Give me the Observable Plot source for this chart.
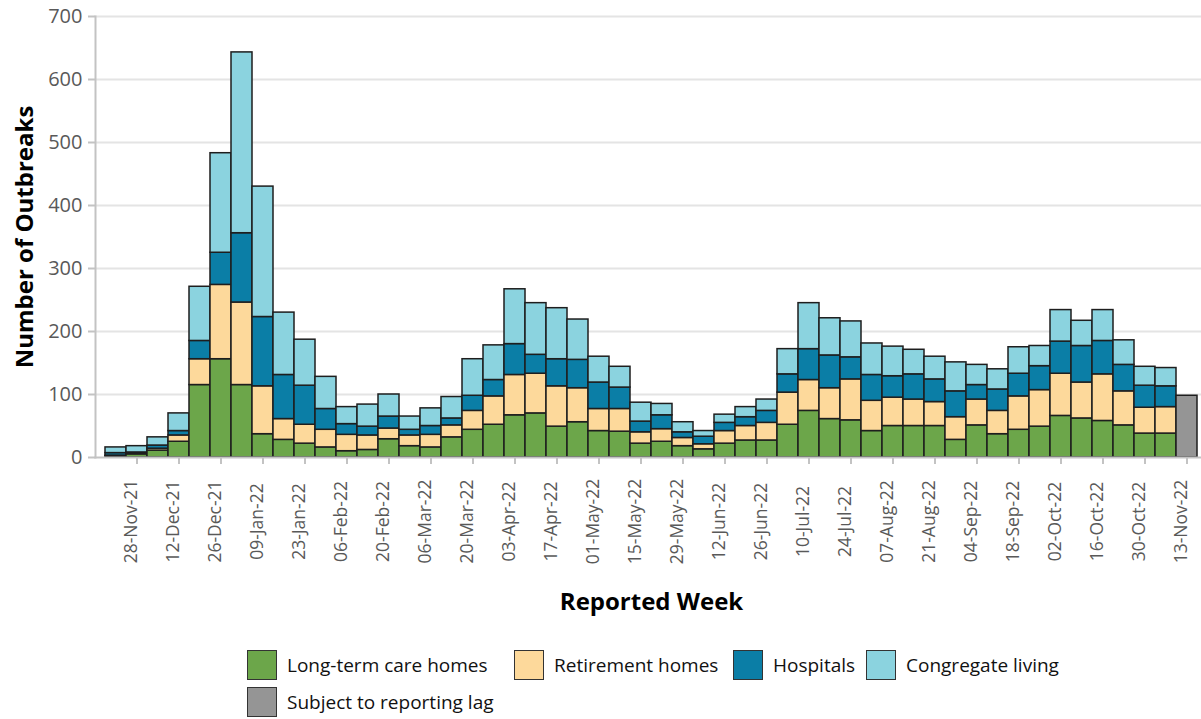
<!DOCTYPE html>
<html><head><meta charset="utf-8">
<script src="https://cdn.jsdelivr.net/npm/d3@7"></script>
<script src="https://cdn.jsdelivr.net/npm/@observablehq/plot@0.6"></script>
<style>
body{margin:0;background:#fff;font-family:"Open Sans",sans-serif;}
#wrap{position:relative;width:1201px;height:719px;overflow:hidden;}
.item{position:absolute;display:flex;align-items:center;font-size:19px;color:#111;white-space:nowrap;}
.sw{width:28px;height:28px;border:1.5px solid #333;margin-right:10px;box-sizing:content-box;}
</style></head><body><div id="wrap"><div id="chart"></div><div id="legend"></div></div>
<script>
const weeks = ["21-Nov-21","28-Nov-21","05-Dec-21","12-Dec-21","19-Dec-21","26-Dec-21","02-Jan-22","09-Jan-22","16-Jan-22","23-Jan-22","30-Jan-22","06-Feb-22","13-Feb-22","20-Feb-22","27-Feb-22","06-Mar-22","13-Mar-22","20-Mar-22","27-Mar-22","03-Apr-22","10-Apr-22","17-Apr-22","24-Apr-22","01-May-22","08-May-22","15-May-22","22-May-22","29-May-22","05-Jun-22","12-Jun-22","19-Jun-22","26-Jun-22","03-Jul-22","10-Jul-22","17-Jul-22","24-Jul-22","31-Jul-22","07-Aug-22","14-Aug-22","21-Aug-22","28-Aug-22","04-Sep-22","11-Sep-22","18-Sep-22","25-Sep-22","02-Oct-22","09-Oct-22","16-Oct-22","23-Oct-22","30-Oct-22","06-Nov-22","13-Nov-22"];
const longTermCare = [2,5,11,25,115,156,115,37,28,22,16,10,12,29,18,16,32,44,52,67,70,49,56,42,41,22,25,18,13,22,27,27,52,74,61,59,42,50,50,50,28,51,37,44,49,66,62,58,51,38,38,0];
const retirement   = [1,1,3,10,41,118,131,76,33,30,28,26,23,17,17,20,19,30,45,64,63,64,54,35,36,18,20,13,8,20,23,28,51,49,49,65,48,45,42,38,36,41,37,53,58,67,57,74,54,41,42,0];
const hospitals    = [4,2,5,7,29,51,110,110,70,62,33,17,14,19,9,14,11,24,26,49,30,43,45,42,34,17,22,9,12,13,14,19,29,49,52,35,41,34,40,36,41,23,34,36,38,51,58,53,42,35,33,0];
const congregate   = [9,10,13,28,86,158,287,207,99,73,51,27,35,35,21,28,34,58,55,87,82,81,64,41,33,30,18,16,9,13,16,18,40,73,59,57,50,47,39,36,46,32,32,42,32,50,40,49,39,30,29,0];
const reportingLag = [0,0,0,0,0,0,0,0,0,0,0,0,0,0,0,0,0,0,0,0,0,0,0,0,0,0,0,0,0,0,0,0,0,0,0,0,0,0,0,0,0,0,0,0,0,0,0,0,0,0,0,98];
const categories = ["Long-term care homes","Retirement homes","Hospitals","Congregate living","Subject to reporting lag"];
const colors = ["#6ca64a","#fdd99b","#0b7ea6","#8bd3df","#959595"];
const yTicks = [0,100,200,300,400,500,600,700];
const xTickLabels = ["28-Nov-21","12-Dec-21","26-Dec-21","09-Jan-22","23-Jan-22","06-Feb-22","20-Feb-22","06-Mar-22","20-Mar-22","03-Apr-22","17-Apr-22","01-May-22","15-May-22","29-May-22","12-Jun-22","26-Jun-22","10-Jul-22","24-Jul-22","07-Aug-22","21-Aug-22","04-Sep-22","18-Sep-22","02-Oct-22","16-Oct-22","30-Oct-22","13-Nov-22"];

const series = [longTermCare, retirement, hospitals, congregate, reportingLag];
const rows = [];
weeks.forEach((w, i) => {
  series.forEach((arr, k) => {
    if (arr[i] > 0) rows.push({week: w, category: categories[k], value: arr[i]});
  });
});

const chart = Plot.plot({
  width: 1201, height: 640,
  marginLeft: 95, marginRight: 0, marginTop: 16, marginBottom: 183,
  style: {fontFamily: "Open Sans", background: "white", overflow: "visible"},
  x: {type: "band", domain: weeks, range: [105, 1197], padding: 0},
  y: {domain: [0, 700]},
  color: {domain: categories, range: colors},
  marks: [
    Plot.ruleY(yTicks.slice(1), {stroke: "#e4e4e4", strokeWidth: 2}),
    Plot.barY(rows, {x: "week", y: "value", fill: "category", stroke: "#1e1e1e", strokeWidth: 1.5}),
    Plot.frame({anchor: "left", stroke: "#c3c3c3", strokeWidth: 2}),
    Plot.frame({anchor: "bottom", stroke: "#c3c3c3", strokeWidth: 2}),
    Plot.axisY({ticks: yTicks, tickSize: 0, tickPadding: 13, fontSize: 20, fill: "#595959", label: null}),
    Plot.axisY({ticks: yTicks, tickSize: 7, tickFormat: () => "", stroke: "#c3c3c3", strokeWidth: 2, label: null}),
    Plot.axisX({ticks: xTickLabels, tickSize: 7, tickFormat: () => "", stroke: "#c3c3c3", strokeWidth: 2, label: null}),
    Plot.text(xTickLabels, {x: d => d, frameAnchor: "bottom", rotate: -90, dy: 64, textAnchor: "middle", fontSize: 17.5, fill: "#595959"}),
    Plot.text(["Reported Week"], {frameAnchor: "bottom", dx: 3, dy: 152, fontWeight: "bold", fontSize: 24, fill: "#000"}),
    Plot.text(["Number of Outbreaks"], {frameAnchor: "left", rotate: -90, dx: -70, textAnchor: "middle", fontWeight: "bold", fontSize: 24, fill: "#000"})
  ]
});
document.getElementById("chart").appendChild(chart);

const legendPos = [[247, 650], [514, 650], [733, 650], [866, 650], [247, 687]];
const legend = document.getElementById("legend");
categories.forEach((c, i) => {
  const it = document.createElement("div");
  it.className = "item";
  it.style.left = legendPos[i][0] + "px";
  it.style.top = legendPos[i][1] + "px";
  const sw = document.createElement("div");
  sw.className = "sw";
  sw.style.background = colors[i];
  const t = document.createElement("span");
  t.textContent = c;
  it.appendChild(sw); it.appendChild(t);
  legend.appendChild(it);
});
</script></body></html>
